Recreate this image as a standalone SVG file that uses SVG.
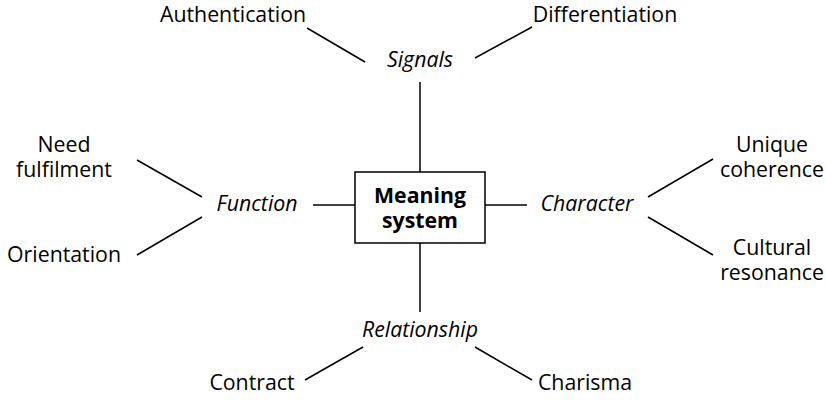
<svg xmlns="http://www.w3.org/2000/svg" width="826" height="400" viewBox="0 0 826 400">
<style>
text{font-family:"Open Sans","Noto Sans","DejaVu Sans",sans-serif;font-size:21.3px;fill:#000;text-anchor:middle}
.i{font-style:italic}
.b{font-weight:bold}
.c line{stroke:#000;stroke-width:1.5}
.box{fill:#fff;stroke:#000;stroke-width:1.5}
</style>
<rect width="826" height="400" fill="#fff"/>
<g class="c" id="connectors">
<line x1="420" y1="82" x2="420" y2="172"/>
<line x1="420" y1="243" x2="420" y2="312"/>
<line x1="313" y1="205" x2="355" y2="205"/>
<line x1="485" y1="205" x2="527" y2="205"/>
<line x1="307" y1="28" x2="365" y2="62"/>
<line x1="475" y1="58" x2="532" y2="27"/>
<line x1="137" y1="160" x2="202" y2="197"/>
<line x1="202" y1="217" x2="137" y2="255"/>
<line x1="648" y1="197" x2="713" y2="159"/>
<line x1="648" y1="217" x2="713" y2="255"/>
<line x1="363" y1="347" x2="305" y2="380"/>
<line x1="475" y1="347" x2="532" y2="380"/>
</g>
<g id="meaning">
<rect class="box" x="355" y="172" width="130" height="71"/>
<text class="b" x="420" y="203">Meaning</text>
<text class="b" x="420" y="228">system</text>
</g>
<g id="signals"><text class="i" x="420" y="67">Signals</text></g>
<g id="authentication"><text x="233" y="22">Authentication</text></g>
<g id="differentiation"><text x="605" y="22">Differentiation</text></g>
<g id="function"><text class="i" x="257" y="211">Function</text></g>
<g id="need"><text x="64" y="152">Need</text><text x="64" y="177">fulfilment</text></g>
<g id="orientation"><text x="64" y="262">Orientation</text></g>
<g id="character"><text class="i" x="587" y="211">Character</text></g>
<g id="unique"><text x="772" y="152">Unique</text><text x="772" y="177">coherence</text></g>
<g id="cultural"><text x="772" y="255">Cultural</text><text x="772" y="280">resonance</text></g>
<g id="relationship"><text class="i" x="420" y="337">Relationship</text></g>
<g id="contract"><text x="252" y="390">Contract</text></g>
<g id="charisma"><text x="585" y="390">Charisma</text></g>
</svg>
